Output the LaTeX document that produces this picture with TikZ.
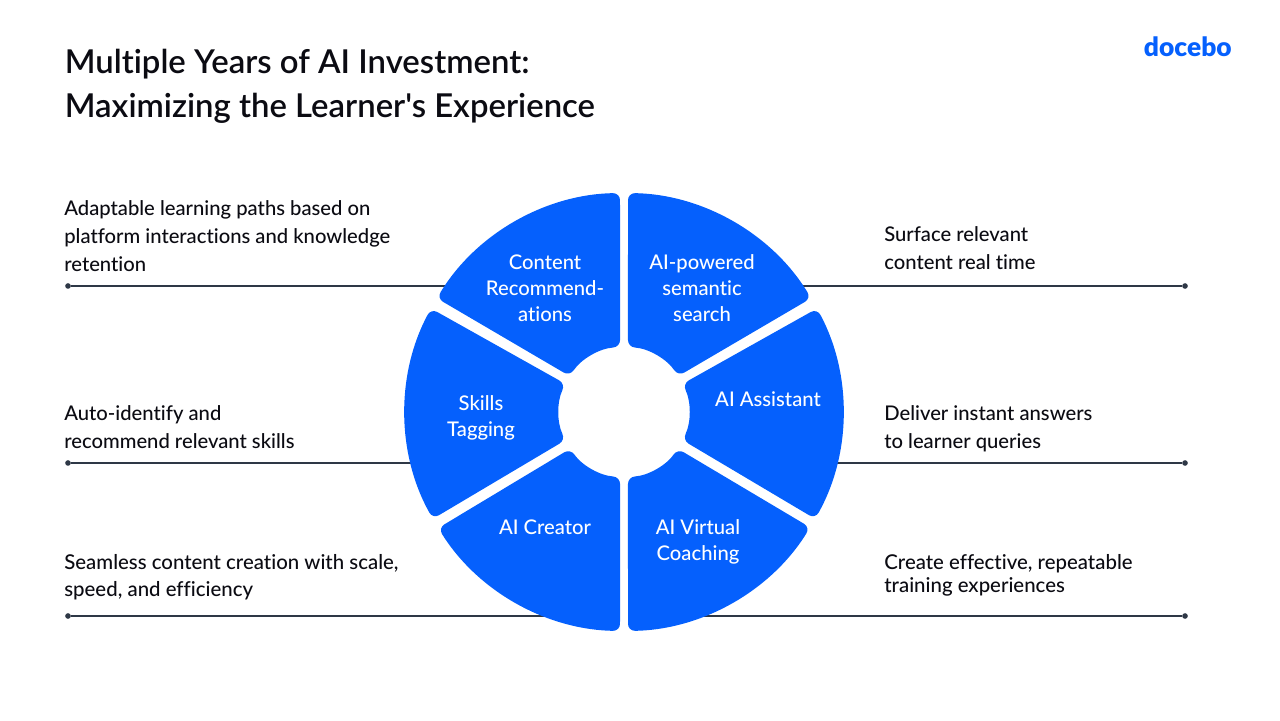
\documentclass[tikz,border=0pt]{standalone}
\usepackage{fontspec}
\setmainfont{Lato Medium}[Ligatures=NoCommon]
\newfontfamily\titlefont{Lato Semibold}[Ligatures=NoCommon]
\newfontfamily\logofont{Lato Black}
\definecolor{brandblue}{HTML}{0560FD}
\definecolor{linegray}{HTML}{2E3846}
\definecolor{inkblack}{HTML}{0B0B12}
\tikzset{
  segment/.style={fill=brandblue, rounded corners=4pt},
  caption/.style={anchor=west, align=left, text=inkblack, inner sep=0pt, font=\fontsize{11.5}{15.9}\selectfont},
  seglabel/.style={align=center, text=white, inner sep=0pt, font=\fontsize{11.5}{14.7}\selectfont},
  leader/.style={draw=linegray, line width=0.85pt},
  enddot/.style={circle, fill=linegray, minimum size=3.2pt, inner sep=0pt}
}
\begin{document}
\begin{tikzpicture}
\useasboundingbox (0,0) rectangle (25.6,14.4);

\node[anchor=west, align=left, text=inkblack, inner sep=0pt, font=\titlefont\fontsize{18.7}{25}\selectfont] (title) at (1.29,12.67) {Multiple Years of AI Investment:\\Maximizing the Learner's Experience};
\node[anchor=east, text=brandblue, inner sep=0pt, font=\logofont\fontsize{15}{15}\selectfont] (logo) at (24.64,13.46) {docebo};

% leader lines
\node[enddot] (dotL1) at (1.36,8.68) {};
\node[enddot] (dotL2) at (1.36,5.14) {};
\node[enddot] (dotL3) at (1.36,2.08) {};
\node[enddot] (dotR1) at (23.7,8.68) {};
\node[enddot] (dotR2) at (23.7,5.14) {};
\node[enddot] (dotR3) at (23.7,2.08) {};
\coordinate (endL1) at (10,8.68);
\coordinate (endL2) at (9,5.14);
\coordinate (endL3) at (12,2.08);
\coordinate (endR1) at (15,8.68);
\coordinate (endR2) at (16,5.14);
\coordinate (endR3) at (13,2.08);
\draw[leader] (dotL1) -- (endL1);
\draw[leader] (dotL2) -- (endL2);
\draw[leader] (dotL3) -- (endL3);
\draw[leader] (dotR1) -- (endR1);
\draw[leader] (dotR2) -- (endR2);
\draw[leader] (dotR3) -- (endR3);

% ring
\foreach \oa/\ob/\ia/\ib in {31.3/88.95/33.5/86.5, -29.2/28.2/-25.65/25.65, -88.95/-31.8/-86.5/-34.35, -148/-91.05/-145.65/-93.5, 151.8/209.2/154.35/205.65, 91.05/148.7/93.5/146.5}
  \fill[segment, shift={(12.48,6.16)}] (\oa:4.38) arc[start angle=\oa, end angle=\ob, radius=4.38] -- (\ib:1.3) arc[start angle=\ib, end angle=\ia, radius=1.3] -- cycle;

\node[seglabel] (content) at (10.9,8.64) {Content\\Recommend-\\ations};
\node[seglabel] (search) at (14.04,8.64) {AI-powered\\semantic\\search};
\node[seglabel] (skills) at (9.62,6.04) {Skills\\Tagging};
\node[seglabel] (assistant) at (15.36,6.42) {AI Assistant};
\node[seglabel] (creator) at (10.9,3.86) {AI Creator};
\node[seglabel] (coaching) at (13.96,3.56) {AI Virtual\\Coaching};

\node[caption] (capL1) at (1.28,9.68) {Adaptable learning paths based on\\platform interactions and knowledge\\retention};
\node[caption] (capL2) at (1.28,5.86) {Auto-identify and\\recommend relevant skills};
\node[caption, font=\fontsize{11.6}{15.4}\selectfont] (capL3) at (1.28,2.85) {Seamless content creation with scale,\\speed, and efficiency};
\node[caption] (capR1) at (17.68,9.44) {Surface relevant\\content real time};
\node[caption] (capR2) at (17.68,5.82) {Deliver instant answers\\to learner queries};
\node[caption, font=\fontsize{11.6}{13.1}\selectfont] (capR3) at (17.68,2.9) {Create effective, repeatable\\training experiences};
\end{tikzpicture}
\end{document}
